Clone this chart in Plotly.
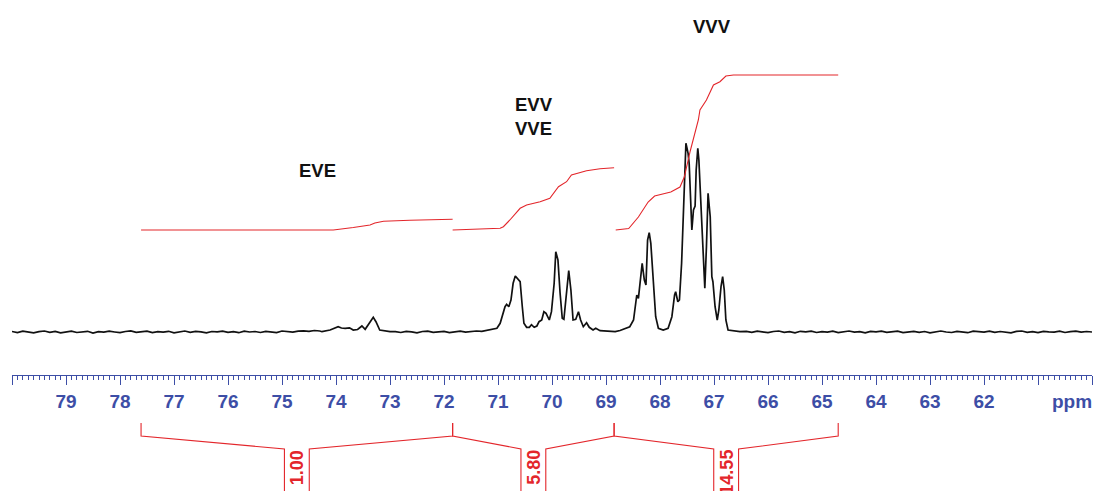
import numpy as np
import plotly.graph_objects as go

# ---------------- data (ppm / intensity) ----------------
tick_ppm = [60, 61, 62, 63, 64, 65, 66, 67, 68, 69, 70, 71, 72, 73, 74, 75, 76, 77, 78, 79, 80]
tick_text = ["", "", "62", "63", "64", "65", "66", "67", "68", "69", "70", "71", "72",
             "73", "74", "75", "76", "77", "78", "79", ""]

# baseline noise segments (sampled every 0.1 ppm)
left_noise = [0.5, -0.6, 0.8, 0.2, -0.9, 0.4, 1.0, -0.3, 0.6, -0.8, 0.3, 0.9, -0.5, 0.1, 0.7,
              -1.0, 0.4, -0.2, 0.8, 0.0, -0.7, 0.5, 1.1, -0.4, 0.2, 0.9, -0.6, 0.3, -0.1, 0.7,
              -0.8, 0.4, 1.0, -0.3, 0.6, 0.1, -0.9, 0.5, 0.2, 0.8, -0.4, 0.3, -0.7, 0.9, 0.0,
              0.5, -0.5, 0.7, 0.2, -0.6, 1.0, 0.4, -0.2, 0.8, 1.2, 0.6, 1.5, 1.0]
mid_noise = [0.4, -0.5, 0.7, 0.1, -0.8, 0.5, 0.9, -0.3, 0.2, 0.6, -0.7, 0.3, 0.8, -0.2,
             0.5, 1.0, 0.6, 1.6]
right_noise = [0.6, -0.4, 0.8, 0.2, -0.7, 0.5, 1.0, -0.3, 0.4, -0.8,
               0.7, 0.1, 0.9, -0.5, 0.3, -0.1, 0.8, -0.6, 0.5, 1.0,
               -0.2, 0.4, -0.9, 0.6, 0.2, 0.8, -0.4, 0.3, 0.9, -0.6,
               0.1, 0.7, -0.3, 0.5, -0.8, 0.4, 1.0, 0.0, -0.5, 0.6,
               0.2, -0.7, 0.8, 0.3, -0.2, 0.9, -0.4, 0.5, 0.1, -0.8,
               0.6, 1.0, -0.3, 0.4, -0.6, 0.7, 0.2, -0.1, 0.8, -0.5,
               0.3, 0.9, -0.2, 0.5, 0.0]

eve_ppm = [74.26, 74.11, 74.04, 73.96, 73.90, 73.83, 73.75, 73.68, 73.60, 73.52, 73.46,
           73.37, 73.31, 73.26, 73.19, 73.00]
eve_int = [0.3, 2.0, 3.5, 5.3, 4.0, 3.7, 4.2, 2.0, 2.5, 6.0, 2.7,
           10.3, 14.7, 10.3, 2.0, 0.3]

evv_ppm = [71.15, 71.02, 70.96, 70.91, 70.87, 70.84, 70.80, 70.76, 70.72, 70.68,
           70.63, 70.59, 70.55, 70.52, 70.47, 70.42, 70.38, 70.33, 70.28, 70.24,
           70.19, 70.15, 70.11, 70.05, 70.01, 69.96, 69.93, 69.89, 69.85, 69.81,
           69.78, 69.73, 69.69, 69.65, 69.61, 69.56, 69.51, 69.47, 69.42, 69.36,
           69.31, 69.24, 69.19, 69.11, 69.02, 68.83, 68.74]
evv_int = [2.7, 3.7, 8.7, 17, 25.3, 27.7, 25.3, 32, 48.7, 56,
           52.7, 50.3, 25.3, 8.7, 4.7, 4.7, 7.3, 4.7, 6, 10.3,
           12, 20.3, 18.7, 12, 20.3, 48.7, 80.3, 72, 38.7, 13.7,
           12.7, 42, 61.3, 42, 12, 12.7, 20.3, 12, 5.3, 9.3,
           4.7, 2, 3.7, 1.3, 1, 0.3, 1.5]

vvv_ppm = [68.65, 68.56, 68.49, 68.45, 68.43, 68.40, 68.35, 68.33, 68.29, 68.26,
           68.23, 68.20, 68.17, 68.12, 68.08, 68.03, 67.94, 67.85, 67.78, 67.73,
           67.71, 67.67, 67.64, 67.60, 67.56, 67.52, 67.50, 67.48, 67.46, 67.43,
           67.41, 67.38, 67.35, 67.33, 67.30, 67.28, 67.25, 67.23, 67.20, 67.17,
           67.14, 67.11, 67.07, 67.04, 67.02, 66.98, 66.94, 66.91, 66.87, 66.84,
           66.81, 66.78, 66.74, 66.61, 66.52]
vvv_int = [3.7, 5.3, 12, 27, 37, 33.7, 55.3, 68.7, 52, 47,
           92, 99.3, 88.7, 52, 15.3, 3.7, 2, 3.7, 15.3, 37,
           40.3, 30.3, 32, 68.7, 135.3, 188.7, 183.7, 178.7, 168.7, 135.3,
           102, 122, 126, 162, 183.7, 172, 135.3, 115.3, 68.7, 43.7,
           85.3, 138.7, 115.3, 55.3, 50.3, 25.3, 12, 22, 45.3, 55.3,
           42, 12, 2, 1, 0.3]

# integral curves
int1_ppm = [77.61, 74.05, 73.68, 73.37, 73.28, 73.12, 72.63, 71.84]
int1_val = [102, 102, 104.5, 107, 109, 110.8, 111.7, 112.7]
int2_ppm = [71.84, 70.96, 70.90, 70.78, 70.59, 70.47, 70.22, 70.04, 69.88, 69.73, 69.64,
            69.36, 69.11, 68.85]
int2_val = [102, 103.7, 105.3, 112, 123.7, 127, 130.3, 133.7, 145.3, 150.3, 157,
            161.3, 163.3, 164.3]
int3_ppm = [68.82, 68.58, 68.40, 68.22, 68.10, 67.80, 67.63, 67.55, 67.44, 67.29, 67.26,
            67.14, 67.01, 66.89, 66.78, 66.64, 64.70]
int3_val = [102, 103.5, 115, 130, 136, 140, 145, 155, 181, 212, 222,
            232, 247, 250.3, 256, 257, 257]

# integration regions and values
region_hi = [77.61, 71.84, 68.85]
region_lo = [71.84, 68.85, 64.70]
region_label = ["1.00", "5.80", "14.55"]

# assignment labels
assign_text = ["EVE", "EVV<br>VVE", "VVV"]
assign_ppm = [74.34, 70.33, 67.04]
assign_y = [162, 215.5, 306]

# ---------------- build ----------------
BLUE = "#3d4ea6"
RED = "#e3262b"
FONT = "Liberation Sans, Arial, sans-serif"

left_ppm = np.linspace(80.0, 74.3, len(left_noise))
mid_ppm = np.linspace(72.9, 71.2, len(mid_noise))
right_ppm = np.linspace(66.4, 60.0, len(right_noise))

spec_ppm = np.concatenate([left_ppm, eve_ppm, mid_ppm, evv_ppm, vvv_ppm, right_ppm])
spec_int = np.concatenate([left_noise, eve_int, mid_noise, evv_int, vvv_int, right_noise])

fig = go.Figure()
fig.add_trace(go.Scatter(x=spec_ppm, y=spec_int, mode="lines",
                         line=dict(color="#111111", width=1.7), hoverinfo="skip"))
for xp, yv in [(int1_ppm, int1_val), (int2_ppm, int2_val), (int3_ppm, int3_val)]:
    fig.add_trace(go.Scatter(x=xp, y=yv, mode="lines", line=dict(color=RED, width=1.1),
                             hoverinfo="skip"))

# integration brackets below the axis
Y_TOP, Y_KNEE, Y_SLANT, Y_BOT = -91, -104, -117, -170
HALF = 0.23
for hi, lo, lab in zip(region_hi, region_lo, region_label):
    c = (hi + lo) / 2
    bx = [hi, hi, c + HALF, c + HALF, None, lo, lo, c - HALF, c - HALF]
    by = [Y_TOP, Y_KNEE, Y_SLANT, Y_BOT, None, Y_TOP, Y_KNEE, Y_SLANT, Y_BOT]
    fig.add_trace(go.Scatter(x=bx, y=by, mode="lines", line=dict(color=RED, width=1.1),
                             hoverinfo="skip"))
    fig.add_annotation(x=c, y=Y_SLANT, text=lab, textangle=-90, showarrow=False,
                       xanchor="center", yanchor="top", borderpad=0,
                       font=dict(family=FONT, size=18, color=RED, weight="bold"))

for t, xp, yv in zip(assign_text, assign_ppm, assign_y):
    fig.add_annotation(x=xp, y=yv, text=t, showarrow=False, xanchor="center",
                       yanchor="middle",
                       font=dict(family=FONT, size=18.5, color="#111111", weight="bold"))

fig.add_annotation(x=60.37, y=-69, text="ppm", showarrow=False, xanchor="center",
                   yanchor="middle", font=dict(family=FONT, size=19, color=BLUE, weight="bold"))

fig.update_layout(
    width=1094, height=491,
    margin=dict(l=12, r=2, t=0, b=0),
    paper_bgcolor="white", plot_bgcolor="white",
    showlegend=False,
    xaxis=dict(range=[80, 60], anchor="free", position=(491 - 375) / 491,
               showgrid=False, zeroline=False,
               showline=True, linecolor=BLUE, linewidth=1,
               tickmode="array", tickvals=tick_ppm, ticktext=tick_text,
               ticks="outside", ticklen=9, tickwidth=1, tickcolor=BLUE,
               tickfont=dict(family=FONT, size=19, color=BLUE, weight="bold"),
               minor=dict(dtick=0.1, tick0=0, ticks="outside", ticklen=4,
                          tickwidth=1, tickcolor=BLUE, showgrid=False)),
    yaxis=dict(range=[-159, 332], visible=False, showgrid=False, zeroline=False,
               domain=[0, 1]),
)

fig.write_html("out.html", config={"displayModeBar": False},
               post_script="document.body.style.margin='0';document.body.style.overflow='hidden';")
